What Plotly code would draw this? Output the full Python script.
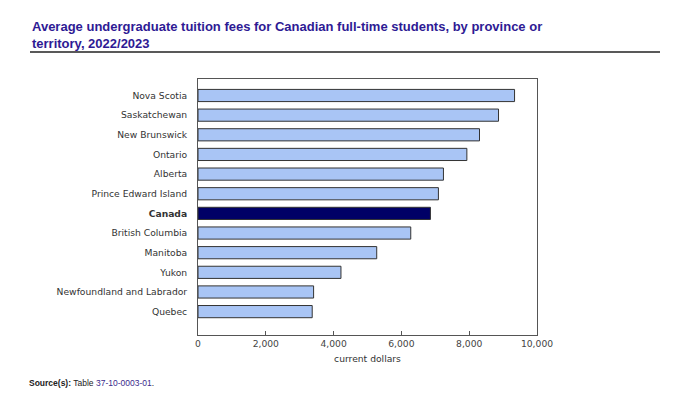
import plotly.graph_objects as go

# Data (bottom to top)
regions = ["Quebec", "Newfoundland and Labrador", "Yukon", "Manitoba", "British Columbia",
           "Canada", "Prince Edward Island", "Alberta", "Ontario", "New Brunswick",
           "Saskatchewan", "Nova Scotia"]
fees = [3369, 3410, 4217, 5272, 6276, 6856, 7092, 7240, 7931, 8304, 8865, 9338]
x_ticks = [0, 2000, 4000, 6000, 8000, 10000]
x_tick_labels = ["0", "2,000", "4,000", "6,000", "8,000", "10,000"]

OFF = 8  # page body margin
W, H = 673 - OFF, 399 - OFF
L, R, T, B = 198 - OFF, 537 - OFF, 79 - OFF, 335 - OFF

def px(x):
    return (x - OFF - L) / (R - L)

def py(y):
    return (B - (y - OFF)) / (B - T)

colors = ["#000066" if r == "Canada" else "#a9c5f5" for r in regions]
ticktext = ["<b>Canada</b>" if r == "Canada" else r for r in regions]

FS = 9.2
fig = go.Figure(go.Bar(
    x=fees, y=regions, orientation="h",
    marker=dict(color=colors, line=dict(color="#333333", width=1)),
    width=0.62,
))

fig.update_layout(
    width=W, height=H,
    margin=dict(l=L, r=W - R, t=T, b=H - B, pad=0),
    plot_bgcolor="white", paper_bgcolor="white",
    showlegend=False,
    font=dict(family="DejaVu Sans", size=FS, color="#333333"),
)
fig.update_xaxes(
    range=[0, 10000], tickvals=x_ticks, ticktext=x_tick_labels,
    showgrid=False, zeroline=False,
    showline=True, mirror=True, linecolor="#555555", linewidth=1,
    ticks="inside", ticklen=4, tickcolor="#555555",
    tickfont=dict(family="DejaVu Sans", size=FS, color="#444444"),
    title=dict(text="current dollars", font=dict(family="DejaVu Sans", size=FS, color="#333333"), standoff=7),
)
fig.update_yaxes(
    type="category", categoryorder="array", categoryarray=regions,
    tickvals=regions, ticktext=ticktext,
    range=[-1.19, 11.84],
    showgrid=False, zeroline=False,
    showline=True, mirror=True, linecolor="#555555", linewidth=1,
    ticks="", ticklabelstandoff=8,
    tickfont=dict(family="DejaVu Sans", size=FS, color="#333333"),
)

title_color = "#2e1a94"
fig.add_annotation(
    xref="paper", yref="paper", x=px(30), y=py(17), xanchor="left", yanchor="top",
    text="<b>Average undergraduate tuition fees for Canadian full-time students, by province or<br>territory, 2022/2023</b>",
    showarrow=False, align="left",
    font=dict(family="Liberation Sans", size=13, color=title_color),
)
fig.add_shape(type="line", xref="paper", yref="paper",
              x0=px(30), x1=px(660), y0=py(52), y1=py(52),
              line=dict(color="#222222", width=1.5))
fig.add_annotation(
    xref="paper", yref="paper", x=px(27), y=py(383), xanchor="left", yanchor="middle",
    text="<b>Source(s):</b> Table <span style='color:#3a2a8c'>37-10-0003-01</span>.",
    showarrow=False, align="left",
    font=dict(family="Liberation Sans", size=8.5, color="#222222"),
)

fig.write_html("out.html")
